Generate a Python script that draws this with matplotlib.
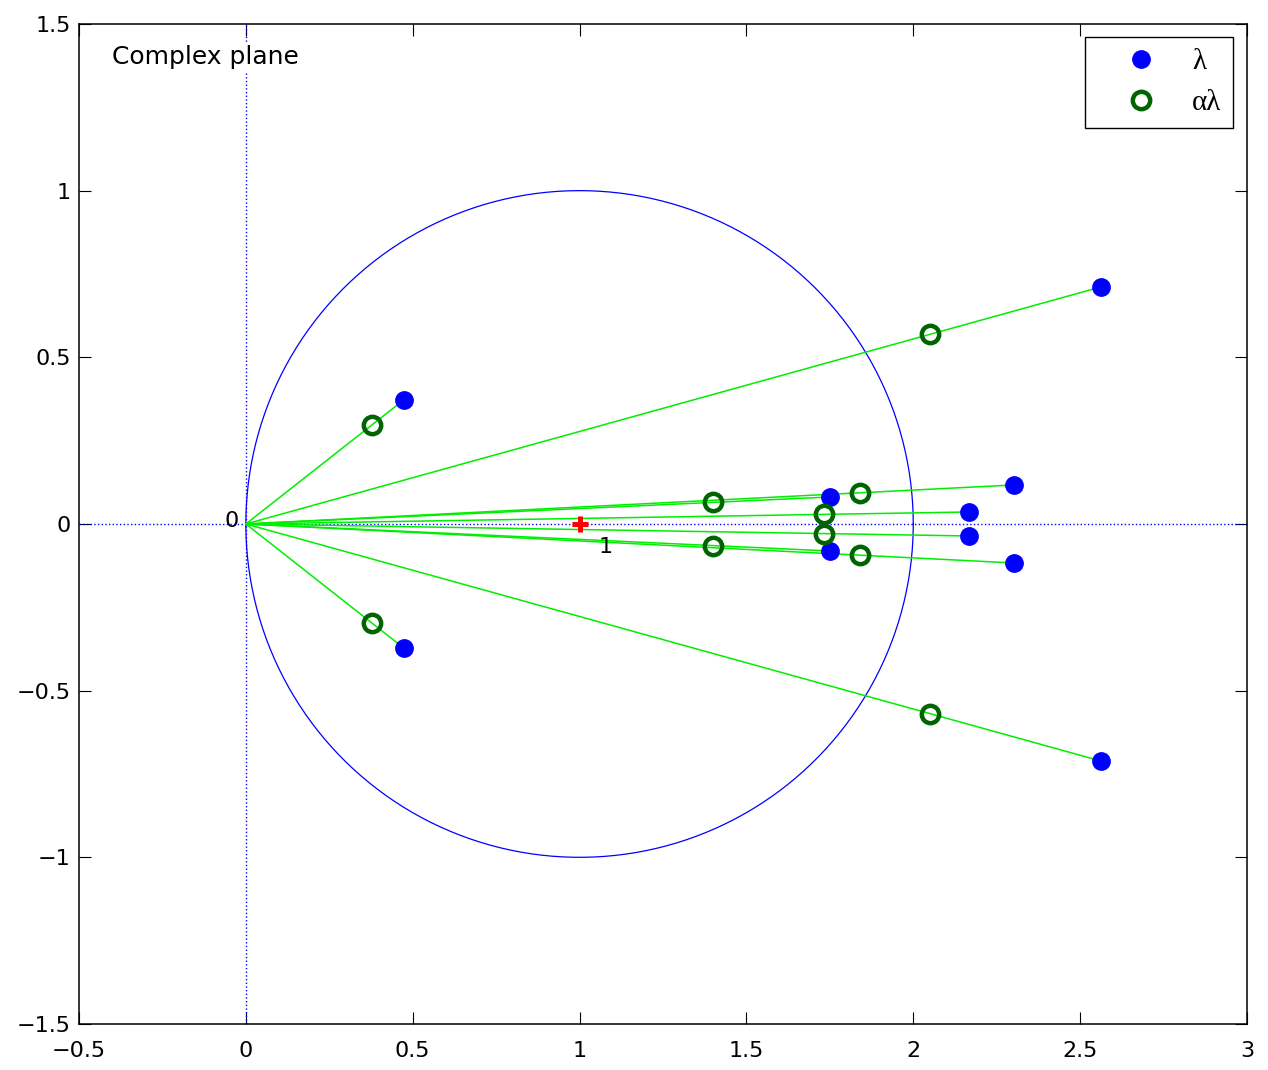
import matplotlib.pyplot as plt
import numpy as np

# eigenvalues (upper half; the lower half are their conjugates)
lam_re = [2.562, 0.473, 1.750, 2.301, 2.167]
lam_im = [0.711, 0.372, 0.081, 0.117, 0.036]

# scaled eigenvalues alpha*lambda
alam_re = [2.050, 0.378, 1.400, 1.841, 1.734]
alam_im = [0.569, 0.298, 0.065, 0.094, 0.029]

x_ticks = [-0.5, 0, 0.5, 1, 1.5, 2, 2.5, 3]
y_ticks = [-1.5, -1, -0.5, 0, 0.5, 1, 1.5]

plt.rcParams['font.family'] = ['DejaVu Sans']
plt.rcParams['axes.unicode_minus'] = True

lam = np.array(lam_re) + 1j * np.array(lam_im)
lam = np.concatenate([lam, lam.conj()])
alam = np.array(alam_re) + 1j * np.array(alam_im)
alam = np.concatenate([alam, alam.conj()])

fig = plt.figure(figsize=(12.68, 10.70), dpi=100)
ax = fig.add_axes([0.0623, 0.043, 0.9211, 0.9346])

# real and imaginary axes
ax.plot([-0.5, 3], [0, 0], ':', color='blue', lw=1)
ax.plot([0, 0], [-1.5, 1.5], ':', color='blue', lw=1)

# unit circle centred on 1
t = np.linspace(0, 2 * np.pi, 400)
ax.plot(1 + np.cos(t), np.sin(t), '-', color='blue', lw=0.9)

# rays from the origin
for z in lam:
    ax.plot([0, z.real], [0, z.imag], '-', color='#00ee00', lw=1.1)

ax.plot(1, 0, '+', color='red', ms=12, mew=3.6)

h1, = ax.plot(lam.real, lam.imag, 'o', color='blue', ms=12.5, mec='blue',
              linestyle='none', label='λ')
h2, = ax.plot(alam.real, alam.imag, 'o', mfc='none', mec='#006400', ms=12.5,
              mew=3.2, linestyle='none', label='αλ')

ax.text(-0.02, 0.01, '0', fontsize=16, ha='right', va='center')
ax.text(1.056, -0.069, '1', fontsize=16, ha='left', va='center')
ax.text(-0.4, 1.4, 'Complex plane', fontsize=18, ha='left', va='center',
        bbox=dict(facecolor='white', edgecolor='none', pad=2))

ax.set_xlim(-0.5, 3)
ax.set_ylim(-1.5, 1.5)
ax.set_xticks(x_ticks)
ax.set_yticks(y_ticks)
ax.set_xticklabels(['−0.5', '0', '0.5', '1', '1.5', '2', '2.5', '3'])
ax.set_yticklabels(['−1.5', '−1', '−0.5', '0', '0.5', '1', '1.5'])
ax.tick_params(direction='in', length=8.5, width=0.8, top=True, right=True,
               labelsize=16)
ax.tick_params(axis='x', pad=12)
ax.tick_params(axis='y', pad=6)
for s in ax.spines.values():
    s.set_linewidth(1.1)

leg = ax.legend(handles=[h1, h2], loc='upper right',
                prop={'family': 'Liberation Serif', 'size': 21},
                fancybox=False, edgecolor='black', framealpha=1,
                handlelength=3.0, handletextpad=0.25, borderpad=0.4,
                labelspacing=0.5, borderaxespad=0,
                bbox_to_anchor=(0.988, 0.987))
leg.get_frame().set_linewidth(1.0)

fig.savefig('out.png', dpi=100)
